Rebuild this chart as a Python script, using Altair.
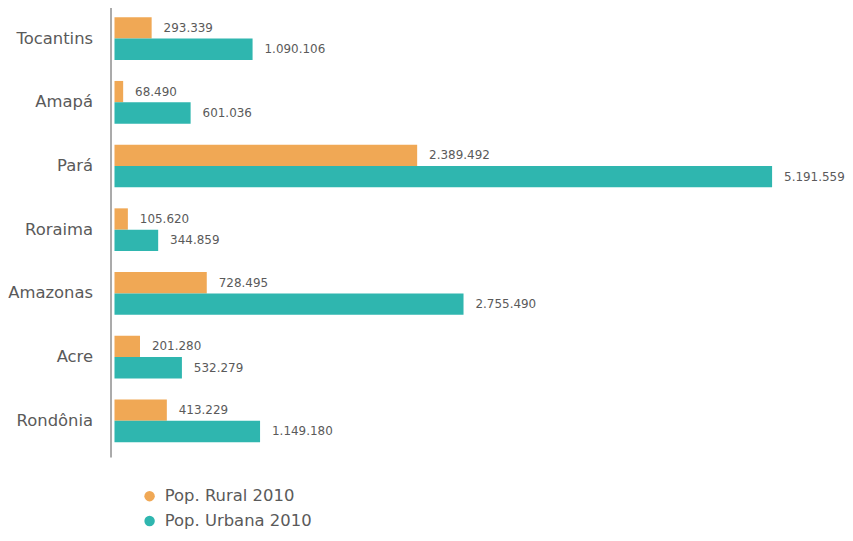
import altair as alt
import pandas as pd

states = ["Tocantins", "Amapá", "Pará", "Roraima", "Amazonas", "Acre", "Rondônia"]
rural = [293339, 68490, 2389492, 105620, 728495, 201280, 413229]
urbana = [1090106, 601036, 5191559, 344859, 2755490, 532279, 1149180]
series = ["Pop. Rural 2010", "Pop. Urbana 2010"]
colors = ["#F0A855", "#2FB6AF"]

rows = []
for s, r, u in zip(states, rural, urbana):
    for name, v in zip(series, (r, u)):
        rows.append({"estado": s, "serie": name, "valor": v,
                     "rotulo": f"{v:,}".replace(",", ".")})
df = pd.DataFrame(rows)

FONT = "DejaVu Sans"
TXT = "#5a5a5a"

y = alt.Y("estado:N", sort=states,
          scale=alt.Scale(paddingInner=0.33, paddingOuter=0.196, align=0.4),
          axis=alt.Axis(title=None, ticks=False, labelPadding=18, offset=4,
                        domainColor="#aaaaaa", domainWidth=2, labelFont=FONT,
                        labelFontSize=16.5, labelColor=TXT))
yo = alt.YOffset("serie:N", sort=series, scale=alt.Scale(paddingInner=0, paddingOuter=0))
x = alt.X("valor:Q", scale=alt.Scale(domain=[0, 5500000]), axis=None)
color = alt.Color("serie:N", sort=series,
                  scale=alt.Scale(domain=series, range=colors),
                  legend=alt.Legend(title=None, orient="none", legendX=27, legendY=483,
                                    direction="vertical", symbolType="circle",
                                    symbolSize=110, symbolStrokeWidth=0,
                                    labelFont=FONT, labelFontSize=16.5, labelColor=TXT,
                                    rowPadding=8, labelOffset=7))

bars = alt.Chart(df).mark_bar().encode(y=y, yOffset=yo, x=x, color=color)
text = alt.Chart(df).mark_text(align="left", baseline="middle", dx=12, font=FONT,
                               fontSize=12, color=TXT).encode(
    y=y, yOffset=yo, x=x, text="rotulo:N")

chart = (bars + text).properties(
    width=700, height=452,
    padding={"left": 107, "top": -2, "right": 34, "bottom": 75},
    autosize=alt.AutoSizeParams(type="none"),
).configure_view(stroke=None)

chart.save("out.html", embed_options={"renderer": "svg", "actions": False})
